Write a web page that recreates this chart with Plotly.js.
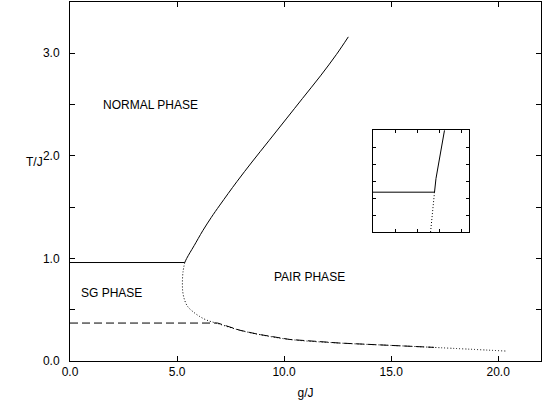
<!DOCTYPE html>
<html><head><meta charset="utf-8">
<script src="https://cdn.plot.ly/plotly-3.0.1.min.js"></script>
<style>html,body{margin:0;padding:0;background:#fff}#c{width:542px;height:404px}</style>
</head><body><div id="c"></div>
<script>
// Main diagram data
const flatG = [0, 5.36];
const flatT = [0.96, 0.96];

const upperG = [5.36, 5.45, 5.6, 5.8, 6.2, 6.6, 7.0, 7.8, 8.5, 9.3, 10.1, 10.86, 11.7, 12.45, 13.0];
const upperT = [0.96, 1.0, 1.055, 1.125, 1.27, 1.40, 1.52, 1.75, 1.94, 2.15, 2.36, 2.56, 2.78, 2.99, 3.16];

const reentG = [5.36, 5.28, 5.25, 5.27, 5.36, 5.5, 5.75, 6.05, 6.37, 6.9, 7.93, 8.8, 10.26, 12.6, 14.9, 17.25, 20.36];
const reentT = [0.96, 0.87, 0.76, 0.67, 0.59, 0.53, 0.48, 0.435, 0.40, 0.365, 0.30, 0.26, 0.21, 0.175, 0.153, 0.13, 0.097];

const dashG = [0, 6.9, 7.93, 8.8, 10.26, 12.6, 14.9, 17.0];
const dashT = [0.37, 0.37, 0.30, 0.26, 0.21, 0.175, 0.153, 0.133];

// Inset (zoom of the junction)
const inFlatG = [5.30, 5.383];
const inFlatT = [0.957, 0.957];
const inUpG = [5.383, 5.385, 5.3965];
const inUpT = [0.957, 0.973, 1.03];
const inDotG = [5.383, 5.3777];
const inDotT = [0.957, 0.91];

const xTickVals = [0, 5, 10, 15, 20];
const xTickText = ['0.0', '5.0', '10.0', '15.0', '20.0'];
const yTickVals = [0, 1, 2, 3];
const yTickText = ['0.0', '1.0', '2.0', '3.0'];

const phaseLabels = ['NORMAL PHASE', 'SG PHASE', 'PAIR PHASE'];
const phaseG = [3.75, 1.92, 11.2];
const phaseT = [2.5, 0.66, 0.82];

const K = '#000';
const ln = (dash, shape) => ({color: K, width: 1, dash: dash, shape: shape || 'linear'});
const DOT = '1px,2px';

const traces = [
  {x: flatG, y: flatT, mode: 'lines', line: ln('solid'), hoverinfo: 'skip'},
  {x: upperG, y: upperT, mode: 'lines', line: ln('solid', 'spline'), hoverinfo: 'skip'},
  {x: reentG, y: reentT, mode: 'lines', line: ln(DOT, 'spline'), hoverinfo: 'skip'},
  {x: dashG, y: dashT, mode: 'lines', line: ln('8px,4px'), hoverinfo: 'skip'},
  {x: inFlatG, y: inFlatT, xaxis: 'x2', yaxis: 'y2', mode: 'lines', line: ln('solid'), hoverinfo: 'skip'},
  {x: inUpG, y: inUpT, xaxis: 'x2', yaxis: 'y2', mode: 'lines', line: ln('solid'), hoverinfo: 'skip'},
  {x: inDotG, y: inDotT, xaxis: 'x2', yaxis: 'y2', mode: 'lines', line: ln(DOT), hoverinfo: 'skip'}
];

const font = {family: 'Liberation Sans, Arial, sans-serif', size: 12, color: K};

const annotations = phaseLabels.map((t, i) => ({
  text: t, x: phaseG[i], y: phaseT[i], xref: 'x', yref: 'y', showarrow: false, font: font
}));
annotations.push({text: 'T/J', xref: 'paper', yref: 'paper', x: -0.098, y: 0.555, showarrow: false, font: font});

const layout = {
  width: 542, height: 404,
  margin: {l: 70, r: 1, t: 2, b: 43},
  paper_bgcolor: '#fff', plot_bgcolor: '#fff',
  showlegend: false,
  font: font,
  xaxis: {
    range: [0, 22], tickvals: xTickVals, ticktext: xTickText,
    ticks: 'inside', ticklen: 5, tickcolor: K, showline: true, linecolor: K, linewidth: 1,
    mirror: 'ticks', showgrid: false, zeroline: false,
    title: {text: 'g/J', font: font, standoff: 10}
  },
  yaxis: {
    range: [0, 3.5], tickvals: yTickVals, ticktext: yTickText,
    ticks: 'inside', ticklen: 5, tickcolor: K, showline: true, linecolor: K, linewidth: 1,
    mirror: 'ticks', showgrid: false, zeroline: false, ticklabelstandoff: 7,
    minor: {tickvals: [0.5, 1.5, 2.5], ticks: 'inside', ticklen: 5, tickcolor: K}
  },
  xaxis2: {
    domain: [0.643, 0.848], anchor: 'y2', range: [5.30, 5.43], dtick: 0.03, tick0: 5.30,
    ticks: 'inside', ticklen: 3, tickcolor: K, showticklabels: false,
    showline: true, linecolor: K, linewidth: 1, mirror: 'ticks', showgrid: false, zeroline: false
  },
  yaxis2: {
    domain: [0.359, 0.643], anchor: 'x2', range: [0.91, 1.03], dtick: 0.02, tick0: 0.91,
    ticks: 'inside', ticklen: 3, tickcolor: K, showticklabels: false,
    showline: true, linecolor: K, linewidth: 1, mirror: 'ticks', showgrid: false, zeroline: false
  },
  annotations: annotations
};

Plotly.newPlot('c', traces, layout, {staticPlot: true, displayModeBar: false});
</script>
</body></html>
